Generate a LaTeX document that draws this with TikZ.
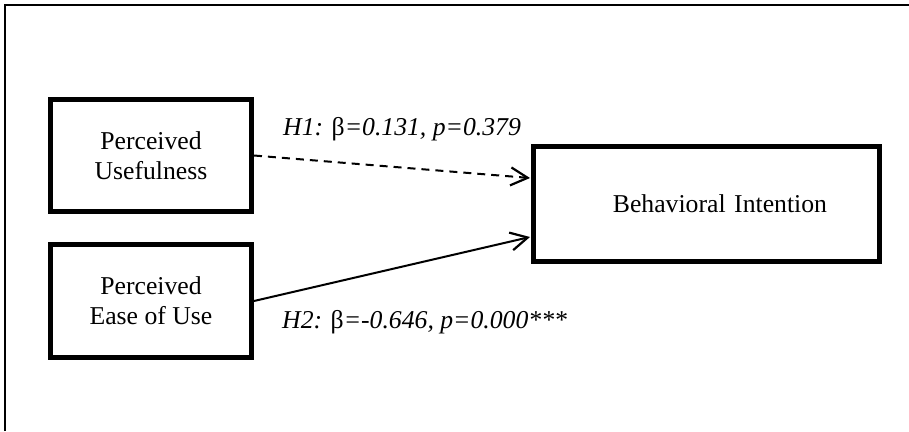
\documentclass[tikz,border=0pt]{standalone}
\usepackage{fontspec}
\setmainfont{Liberation Serif}
\usetikzlibrary{arrows.meta,calc}
\begin{document}
\begin{tikzpicture}[x=1pt,y=-1pt,
  box/.style={draw=black,line width=5pt,fill=white,inner sep=0pt,align=center,
    font=\fontsize{25.7}{30}\selectfont},
  conn/.style={line width=2pt,-{Straight Barb[length=17pt,width=18pt,line width=2.2pt]}},
  lbl/.style={inner sep=0pt,anchor=base west,font=\fontsize{25.7}{30}\selectfont\itshape}]
\useasboundingbox (0,0) rectangle (909,431);
\coordinate (fbl) at (5,431);
\coordinate (ftl) at (5,5);
\coordinate (ftr) at (909,5);
\draw[line width=2pt] (fbl) -- (ftl) -- (ftr);
\node[box,minimum width=201pt,minimum height=112pt] (pu) at (151,155.5) {Perceived\\Usefulness};
\node[box,minimum width=201pt,minimum height=113pt] (peou) at (151,301) {Perceived\\Ease of Use};
\node[box,minimum width=346pt,minimum height=115pt,text width=241pt,inner xsep=52.5pt,align=right] (bi) at (706.5,204) {Behavioral Intention};
\draw[conn,dash pattern=on 8pt off 6pt] (pu.east) -- ($(bi.west)+(-1,-26)$);
\draw[conn] (peou.east) -- ($(bi.west)+(-1,33)$);
\node[lbl] (h1) at (283,135) {H1: {\upshape β}=0.131, p=0.379};
\node[lbl] (h2) at (282,328) {H2: {\upshape β}=-0.646, p=0.000***};
\end{tikzpicture}
\end{document}
